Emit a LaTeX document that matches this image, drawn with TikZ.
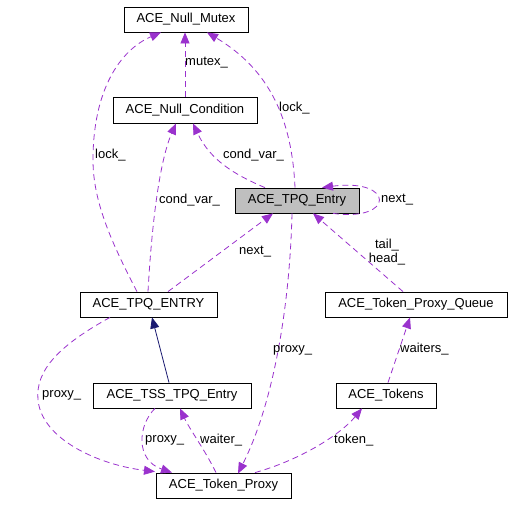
\documentclass[tikz,border=0pt]{standalone}
\usepackage{fontspec}
\setmainfont{Liberation Sans}
\usetikzlibrary{arrows.meta}
\definecolor{dep}{HTML}{9A32CD}
\definecolor{inh}{HTML}{191970}
\definecolor{cur}{HTML}{BFBFBF}
\begin{document}
\begin{tikzpicture}[x=1pt,y=-1pt,
  font=\fontsize{13}{15}\selectfont,
  cls/.style={draw=black,line width=0.8pt,inner sep=0pt,minimum height=25pt,fill=white},
  depline/.style={draw=dep,line width=0.8pt,dash pattern=on 6pt off 4pt,-{Triangle[length=11pt,width=9pt]}},
  inhline/.style={draw=inh,line width=0.8pt,-{Triangle[length=11pt,width=9pt]}},
  lbl/.style={anchor=west,inner sep=0pt,font=\fontsize{13}{15}\selectfont}]
\useasboundingbox (0,0) rectangle (512,504);
% nodes
\node[cls,minimum width=124pt] (mutex) at (186,19.5) {ACE\_Null\_Mutex};
\node[cls,minimum width=144pt,minimum height=26pt] (cond) at (185,110) {ACE\_Null\_Condition};
\node[cls,minimum width=124pt,fill=cur] (tpq) at (297,200.5) {ACE\_TPQ\_Entry};
\node[cls,minimum width=137pt] (tpqE) at (148.5,304.5) {ACE\_TPQ\_ENTRY};
\node[cls,minimum width=182pt] (queue) at (416,304.5) {ACE\_Token\_Proxy\_Queue};
\node[cls,minimum width=158pt] (tss) at (172,395.5) {ACE\_TSS\_TPQ\_Entry};
\node[cls,minimum width=100pt] (tokens) at (386,395.5) {ACE\_Tokens};
\node[cls,minimum width=135pt] (proxy) at (223.5,485.5) {ACE\_Token\_Proxy};
% edges
\draw[depline] (cond.north) -- (cond.north |- mutex.south);
\node[lbl] (l1) at (185,63) {mutex\_};
\draw[depline] ([xshift=-11.5pt]tpqE.north) .. controls (110,240) and (93,200) .. (93,160)
   .. controls (93,90) and (120,50) .. ([xshift=-25pt]mutex.south);
\node[lbl] (l2) at (95,155) {lock\_};
\draw[depline] ([xshift=-2pt]tpq.north) .. controls (292,120) and (270,70) .. ([xshift=21pt]mutex.south);
\node[lbl] (l3) at (279,108) {lock\_};
\draw[depline] ([xshift=-32pt]tpq.north) .. controls (235,175) and (210,160) .. ([xshift=8pt]cond.south);
\node[lbl] (l4) at (223,155) {cond\_var\_};
\draw[depline] ([xshift=-0.5pt]tpqE.north) .. controls (152,220) and (160,160) .. ([xshift=-9pt]cond.south);
\node[lbl] (l5) at (159,200) {cond\_var\_};
\draw[depline] ([xshift=36pt]tpq.south) .. controls (395,222) and (395,178) .. ([xshift=25pt]tpq.north);
\node[lbl] (l6) at (381,200) {next\_};
\draw[depline] ([xshift=19.5pt]tpqE.north) -- ([xshift=-24pt]tpq.south);
\node[lbl] (l7) at (239,252) {next\_};
\draw[depline] ([xshift=-13pt]queue.north) -- ([xshift=16pt]tpq.south);
\node[align=center,inner sep=0pt,font=\fontsize{13}{14}\selectfont] (l8) at (387,252) {tail\_\\head\_};
\draw[depline] ([xshift=-5pt]tpq.south) .. controls (290,300) and (275,400) .. ([xshift=14.5pt,yshift=-1pt]proxy.north);
\node[lbl] (l9) at (273,350) {proxy\_};
\draw[depline] ([xshift=-38.5pt]tpqE.south) .. controls (60,345) and (35,370) .. (38,400)
   .. controls (42,440) and (100,465) .. ([xshift=-68.5pt,yshift=1pt]proxy.north);
\node[lbl] (l10) at (42,395) {proxy\_};
\draw[depline] ([xshift=-17pt]tss.south) .. controls (138,425) and (135,460) .. ([xshift=-51.5pt]proxy.north);
\node[lbl] (l11) at (145,440) {proxy\_};
\draw[depline] ([xshift=-7.5pt]proxy.north) .. controls (205,450) and (190,430) .. ([xshift=8pt]tss.south);
\node[lbl] (l12) at (200,440) {waiter\_};
\draw[depline] ([xshift=31.5pt]proxy.north) .. controls (300,460) and (340,435) .. ([xshift=-24pt]tokens.south);
\node[lbl] (l13) at (334,440) {token\_};
\draw[depline] ([xshift=2pt]tokens.north) -- ([xshift=-6pt]queue.south);
\node[lbl] (l14) at (400,349) {waiters\_};
\draw[inhline] ([xshift=-3pt]tss.north) -- ([xshift=3.5pt]tpqE.south);
\end{tikzpicture}
\end{document}
